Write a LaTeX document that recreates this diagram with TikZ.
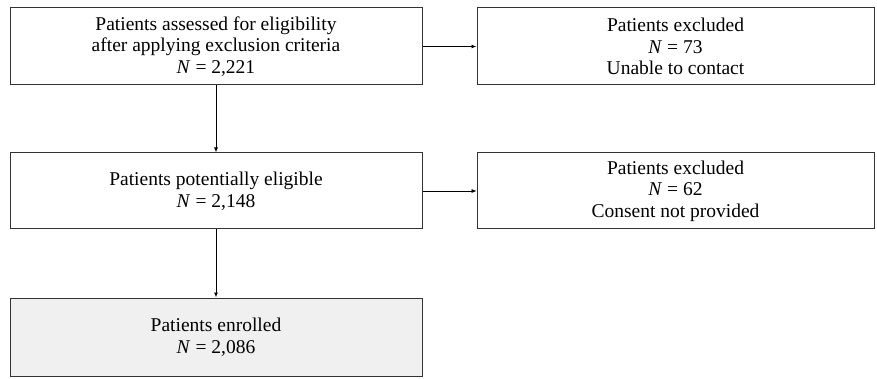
\documentclass[tikz,border=0pt]{standalone}
\usepackage{fontspec}
\setmainfont{Liberation Serif}
\usetikzlibrary{arrows.meta}
\begin{document}
\begin{tikzpicture}[x=1pt,y=-1pt,
  box/.style={draw=black!80,line width=1pt,align=center,inner sep=0pt,
    font=\fontsize{19.5}{21.5}\selectfont},
  conn/.style={draw=black,line width=0.9pt,-{Latex[length=5pt,width=4pt]}}]
\useasboundingbox (0,0) rectangle (877,379);
\node[box,minimum width=412pt,minimum height=77pt] (a) at (216,46.5)
  {Patients assessed for eligibility\\after applying exclusion criteria\\\textit{N} = 2,221};
\node[box,minimum width=397pt,minimum height=77pt] (b) at (675.5,46.5)
  {Patients excluded\\\textit{N} = 73\\Unable to contact};
\node[box,minimum width=412pt,minimum height=76pt] (c) at (216,191)
  {Patients potentially eligible\\\textit{N} = 2,148};
\node[box,minimum width=397pt,minimum height=76pt] (d) at (675.5,191)
  {Patients excluded\\\textit{N} = 62\\Consent not provided};
\node[box,fill=black!6,minimum width=412pt,minimum height=78pt] (e) at (216,337)
  {Patients enrolled\\\textit{N} = 2,086};
\draw[conn] (a) -- (b);
\draw[conn,line width=0.6pt] (c) -- (d);
\draw[conn] (a) -- (c);
\draw[conn] (c) -- (e);
\end{tikzpicture}
\end{document}
